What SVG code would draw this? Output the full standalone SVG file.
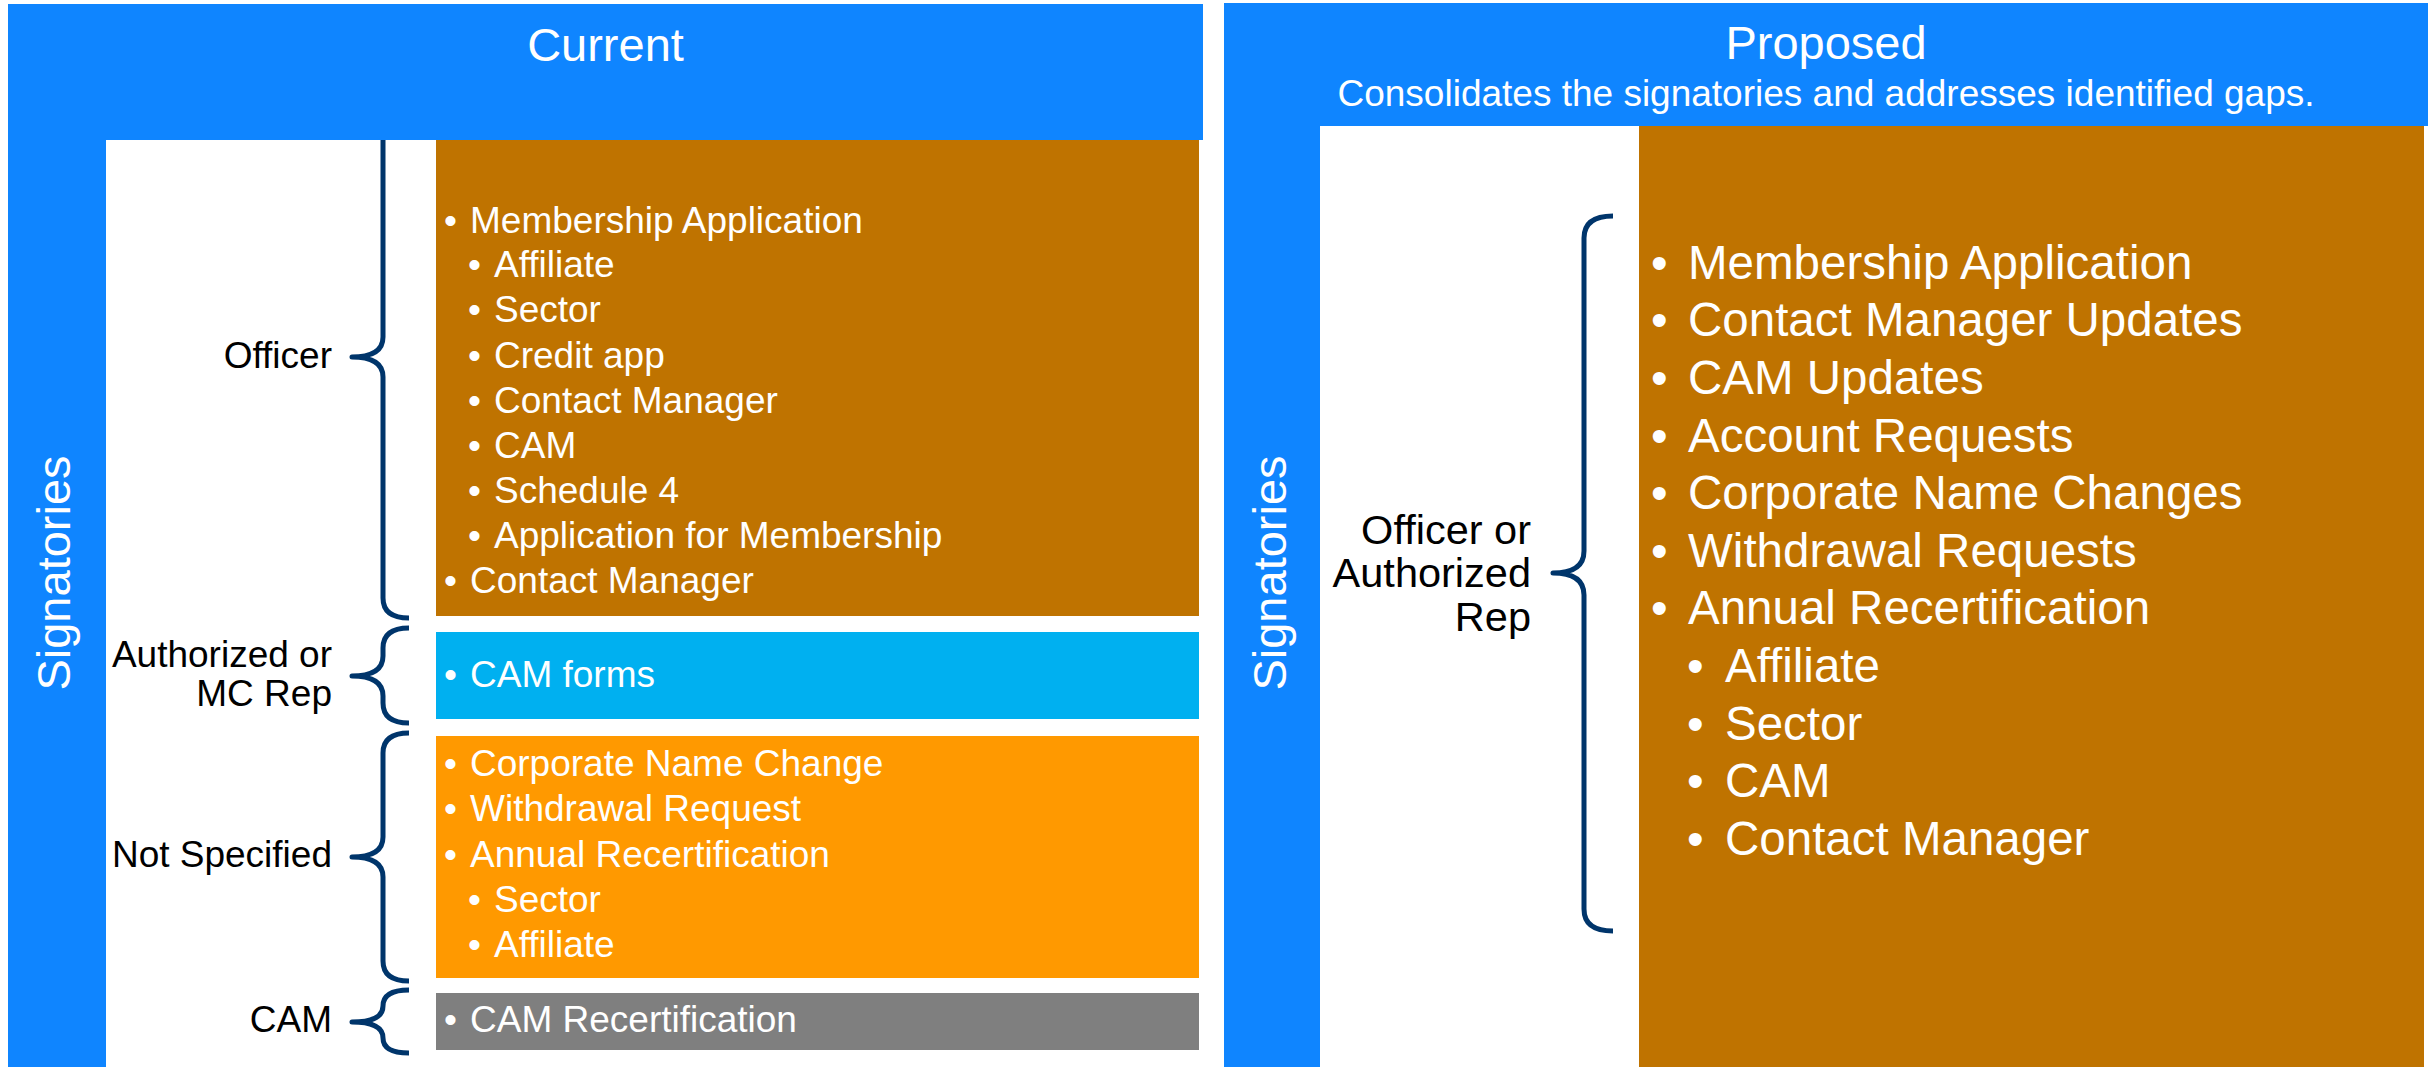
<svg xmlns="http://www.w3.org/2000/svg" width="2432" height="1067" viewBox="0 0 2432 1067">
  <style>
    .t{font-family:"Liberation Sans",Arial,sans-serif}
    .hdr{fill:#0F85FF}
    .wt{fill:#FFFFFF}
    .bk{fill:#000000}
    .brown{fill:#BF7300}
    .cyan{fill:#00B0F0}
    .orange{fill:#FF9900}
    .grey{fill:#7F7F7F}
    .item{font-size:37px}
    .item-lg{font-size:47.5px}
    .lbl{font-size:37px;text-anchor:end}
    .lbl-lg{font-size:41.5px;text-anchor:end}
    .title{font-size:47px;text-anchor:middle}
    .sub{font-size:37px;text-anchor:middle}
    .side{font-size:47px;text-anchor:middle}
    .brace{fill:none;stroke:#00356B;stroke-width:5;stroke-linejoin:round}
  </style>
  <rect width="2432" height="1067" fill="#FFFFFF"/>

  <!-- Current panel frame -->
  <g id="current-panel">
    <rect class="hdr" x="8" y="4" width="1195" height="136"/>
    <rect class="hdr" x="8" y="140" width="98" height="927"/>
    <text class="t title wt" x="605.5" y="61">Current</text>
    <text class="t side wt" transform="translate(70,573) rotate(-90)">Signatories</text>
  </g>

  <!-- Current: signatory labels -->
  <g id="lbl-officer"><text class="t lbl bk" x="332" y="368">Officer</text></g>
  <g id="lbl-authorized"><text class="t lbl bk" x="332" y="667">Authorized or</text><text class="t lbl bk" x="332" y="706">MC Rep</text></g>
  <g id="lbl-not-specified"><text class="t lbl bk" x="332" y="867">Not Specified</text></g>
  <g id="lbl-cam"><text class="t lbl bk" x="332" y="1032">CAM</text></g>

  <!-- Current: form groups -->
  <g id="box-officer">
    <rect class="brown" x="436" y="140" width="763" height="476"/>
    <text class="t item wt" y="233"><tspan x="444">•</tspan><tspan x="470">Membership Application</tspan></text>
    <text class="t item wt" y="277"><tspan x="468">•</tspan><tspan x="494">Affiliate</tspan></text>
    <text class="t item wt" y="322"><tspan x="468">•</tspan><tspan x="494">Sector</tspan></text>
    <text class="t item wt" y="368"><tspan x="468">•</tspan><tspan x="494">Credit app</tspan></text>
    <text class="t item wt" y="413"><tspan x="468">•</tspan><tspan x="494">Contact Manager</tspan></text>
    <text class="t item wt" y="458"><tspan x="468">•</tspan><tspan x="494">CAM</tspan></text>
    <text class="t item wt" y="503"><tspan x="468">•</tspan><tspan x="494">Schedule 4</tspan></text>
    <text class="t item wt" y="548"><tspan x="468">•</tspan><tspan x="494">Application for Membership</tspan></text>
    <text class="t item wt" y="593"><tspan x="444">•</tspan><tspan x="470">Contact Manager</tspan></text>
  </g>
  <g id="box-authorized">
    <rect class="cyan" x="436" y="632" width="763" height="87"/>
    <text class="t item wt" y="687"><tspan x="444">•</tspan><tspan x="470">CAM forms</tspan></text>
  </g>
  <g id="box-not-specified">
    <rect class="orange" x="436" y="736" width="763" height="242"/>
    <text class="t item wt" y="776"><tspan x="444">•</tspan><tspan x="470">Corporate Name Change</tspan></text>
    <text class="t item wt" y="821"><tspan x="444">•</tspan><tspan x="470">Withdrawal Request</tspan></text>
    <text class="t item wt" y="867"><tspan x="444">•</tspan><tspan x="470">Annual Recertification</tspan></text>
    <text class="t item wt" y="912"><tspan x="468">•</tspan><tspan x="494">Sector</tspan></text>
    <text class="t item wt" y="957"><tspan x="468">•</tspan><tspan x="494">Affiliate</tspan></text>
  </g>
  <g id="box-cam">
    <rect class="grey" x="436" y="993" width="763" height="57"/>
    <text class="t item wt" y="1032"><tspan x="444">•</tspan><tspan x="470">CAM Recertification</tspan></text>
  </g>

  <!-- Proposed panel frame -->
  <g id="proposed-panel">
    <rect class="hdr" x="1224" y="3" width="1204" height="123"/>
    <rect class="hdr" x="1224" y="126" width="96" height="941"/>
    <text class="t title wt" x="1826" y="59">Proposed</text>
    <text class="t sub wt" x="1826" y="106">Consolidates the signatories and addresses identified gaps.</text>
    <text class="t side wt" transform="translate(1286,573) rotate(-90)">Signatories</text>
  </g>

  <g id="lbl-officer-or-rep">
    <text class="t lbl-lg bk" x="1531" y="544">Officer or</text>
    <text class="t lbl-lg bk" x="1531" y="587">Authorized</text>
    <text class="t lbl-lg bk" x="1531" y="631">Rep</text>
  </g>

  <g id="box-proposed">
    <rect class="brown" x="1639" y="126" width="785" height="941"/>
    <text class="t item-lg wt" y="279"><tspan x="1651">•</tspan><tspan x="1688">Membership Application</tspan></text>
    <text class="t item-lg wt" y="336"><tspan x="1651">•</tspan><tspan x="1688">Contact Manager Updates</tspan></text>
    <text class="t item-lg wt" y="394"><tspan x="1651">•</tspan><tspan x="1688">CAM Updates</tspan></text>
    <text class="t item-lg wt" y="452"><tspan x="1651">•</tspan><tspan x="1688">Account Requests</tspan></text>
    <text class="t item-lg wt" y="509"><tspan x="1651">•</tspan><tspan x="1688">Corporate Name Changes</tspan></text>
    <text class="t item-lg wt" y="567"><tspan x="1651">•</tspan><tspan x="1688">Withdrawal Requests</tspan></text>
    <text class="t item-lg wt" y="624"><tspan x="1651">•</tspan><tspan x="1688">Annual Recertification</tspan></text>
    <text class="t item-lg wt" y="682"><tspan x="1687">•</tspan><tspan x="1725">Affiliate</tspan></text>
    <text class="t item-lg wt" y="740"><tspan x="1687">•</tspan><tspan x="1725">Sector</tspan></text>
    <text class="t item-lg wt" y="797"><tspan x="1687">•</tspan><tspan x="1725">CAM</tspan></text>
    <text class="t item-lg wt" y="855"><tspan x="1687">•</tspan><tspan x="1725">Contact Manager</tspan></text>
  </g>

  <!-- Braces linking each signatory to its forms -->
  <g id="connectors">
    <path class="brace" d="M383,140 V337 Q383,357 352,357 Q383,357 383,377 V598 Q383,618 409,618"/>
    <path class="brace" d="M409,628 Q383,628 383,648 V656 Q383,676 352,676 Q383,676 383,696 V703 Q383,723 409,723"/>
    <path class="brace" d="M409,733 Q383,733 383,753 V837 Q383,857 352,857 Q383,857 383,877 V961 Q383,981 409,981"/>
    <path class="brace" d="M409,990 Q383,990 383,1006 Q383,1022 352,1022 Q383,1022 383,1038 Q383,1053 409,1053"/>
    <path class="brace" d="M1613,216 Q1584,216 1584,238 V551 Q1584,573 1553,573 Q1584,573 1584,595 V909 Q1584,931 1613,931"/>
  </g>
</svg>
